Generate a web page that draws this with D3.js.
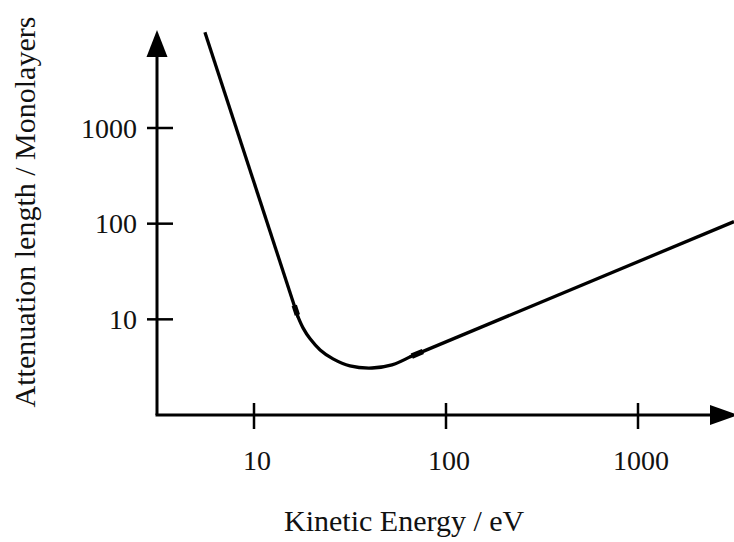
<!DOCTYPE html>
<html>
<head>
<meta charset="utf-8">
<script src="https://d3js.org/d3.v7.min.js"></script>
<style>
  body { margin: 0; background: #fff; }
  text { font-family: "Liberation Serif", "Times New Roman", serif; fill: #111; }
</style>
</head>
<body>
<div id="chart"></div>
<script>
var svgWidth = 734;
var svgHeight = 542;

// tick values (log axes)
var xTicks = [10, 100, 1000];
var yTicks = [10, 100, 1000];

// steep branch (low energy)
var steepEnergy = [5.55, 16.95];
var steepLength = [10000, 10.6];

// rounded minimum
var bendEnergy = [16.95, 18.0, 19.6, 22.1, 25.8, 31.6, 41.2, 52.3, 64.9];
var bendLength = [10.6, 8.15, 6.25, 4.79, 3.86, 3.26, 3.1, 3.34, 4.05];

// high energy branch
var shallowEnergy = [64.9, 3162];
var shallowLength = [4.05, 105];

var svg = d3.select("#chart")
  .append("svg")
  .attr("width", svgWidth)
  .attr("height", svgHeight);

var xScale = d3.scaleLog()
  .domain([10, 1000])
  .range([254, 638]);

var yScale = d3.scaleLog()
  .domain([1, 1000])
  .range([415, 128]);

var originX = 157;
var originY = 415;

// axes lines
svg.append("line")
  .attr("x1", originX).attr("y1", originY)
  .attr("x2", originX).attr("y2", 50)
  .attr("stroke", "#000").attr("stroke-width", 3);

svg.append("line")
  .attr("x1", originX - 1.5).attr("y1", originY)
  .attr("x2", 715).attr("y2", originY)
  .attr("stroke", "#000").attr("stroke-width", 3);

// arrow heads
svg.append("path")
  .attr("d", `M${originX},30 L${originX + 10.5},57 L${originX - 10.5},57 Z`)
  .attr("fill", "#000");

svg.append("path")
  .attr("d", `M738,${originY} L710,${originY - 10} L710,${originY + 10} Z`)
  .attr("fill", "#000");

// x ticks
var xTickG = svg.append("g");
xTickG.selectAll("line")
  .data(xTicks)
  .enter()
  .append("line")
  .attr("x1", d => xScale(d)).attr("x2", d => xScale(d))
  .attr("y1", originY - 12).attr("y2", originY + 14)
  .attr("stroke", "#000").attr("stroke-width", 2.5);

xTickG.selectAll("text")
  .data(xTicks)
  .enter()
  .append("text")
  .attr("x", d => xScale(d) + 3)
  .attr("y", 470)
  .attr("text-anchor", "middle")
  .style("font-size", "28px")
  .text(d => d);

// y ticks
var yTickG = svg.append("g");
yTickG.selectAll("line")
  .data(yTicks)
  .enter()
  .append("line")
  .attr("x1", originX - 10).attr("x2", originX + 16)
  .attr("y1", d => yScale(d)).attr("y2", d => yScale(d))
  .attr("stroke", "#000").attr("stroke-width", 2.5);

yTickG.selectAll("text")
  .data(yTicks)
  .enter()
  .append("text")
  .attr("x", 137)
  .attr("y", d => yScale(d))
  .attr("dy", "0.35em")
  .attr("text-anchor", "end")
  .style("font-size", "28px")
  .text(d => d);

// axis titles
svg.append("text")
  .attr("x", 284)
  .attr("y", 531)
  .style("font-size", "30px")
  .text("Kinetic Energy / eV");

svg.append("text")
  .attr("transform", "translate(35, 212) rotate(-90)")
  .attr("text-anchor", "middle")
  .style("font-size", "30px")
  .text("Attenuation length / Monolayers");

// curve
var line = d3.line()
  .x(d => xScale(d[0]))
  .y(d => yScale(d[1]));

var curveG = svg.append("g")
  .attr("fill", "none")
  .attr("stroke", "#000")
  .attr("stroke-width", 3.3);

var steepPath = curveG.append("path")
  .attr("d", line(d3.zip(steepEnergy, steepLength)));

curveG.append("path")
  .attr("stroke-linecap", "round")
  .attr("d", line.curve(d3.curveCatmullRom)(d3.zip(bendEnergy, bendLength)));

var shallowPath = curveG.append("path")
  .attr("d", line.curve(d3.curveLinear)(d3.zip(shallowEnergy, shallowLength)));

// small thickened joins where the pieces meet
var steepLen = steepPath.node().getTotalLength();
curveG.append("path")
  .attr("d", steepPath.attr("d"))
  .attr("stroke-width", 5.5)
  .attr("stroke-dasharray", "10 10000")
  .attr("stroke-dashoffset", -(steepLen - 12));

curveG.append("path")
  .attr("d", shallowPath.attr("d"))
  .attr("stroke-width", 5.5)
  .attr("stroke-dasharray", "12 10000")
  .attr("stroke-dashoffset", -2);
</script>
</body>
</html>
